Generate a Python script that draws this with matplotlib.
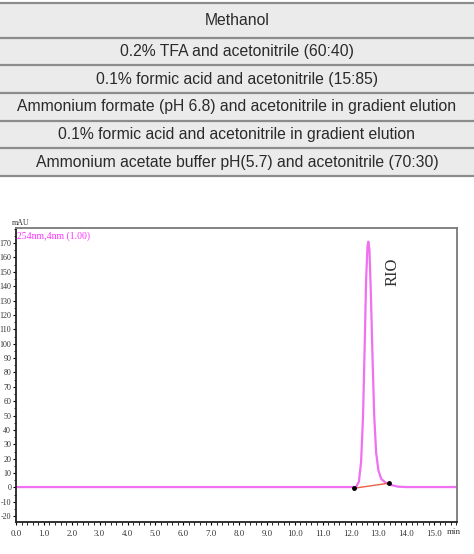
import matplotlib.pyplot as plt
from matplotlib.ticker import MultipleLocator

# table rows (mobile phases)
rows = [
    "Methanol",
    "0.2% TFA and acetonitrile (60:40)",
    "0.1% formic acid and acetonitrile (15:85)",
    "Ammonium formate (pH 6.8) and acetonitrile in gradient elution",
    "0.1% formic acid and acetonitrile in gradient elution",
    "Ammonium acetate buffer pH(5.7) and acetonitrile (70:30)",
]
row_edges = [2.7, 37.7, 65.2, 93.0, 120.7, 148.3, 176.0]

# chromatogram (min, mAU)
time_min = [0.0, 12.00, 12.20, 12.30, 12.38, 12.45, 12.51, 12.56, 12.61, 12.64,
            12.68, 12.73, 12.79, 12.85, 12.92, 13.00, 13.10, 13.25, 13.40,
            13.70, 14.00, 15.80]
signal = [0.3, 0.3, 0.3, 4, 18, 50, 100, 145, 168, 171,
          165, 135, 90, 50, 24, 12, 6, 3.5, 2, 0.6, 0.3, 0.3]
baseline_t = [12.14, 13.37]
baseline_y = [-0.5, 3.0]
peak_name = "RIO"
peak_pos = (13.5, 150)

W, H = 474, 554
fig = plt.figure(figsize=(W / 100, H / 100), dpi=100)

# ---- table at the top ----
ax_t = fig.add_axes([0, 1 - 178 / H, 1, 178 / H])
ax_t.set_xlim(0, 1)
ax_t.set_ylim(178, 0)
ax_t.axis("off")
ax_t.axhspan(row_edges[0], row_edges[-1], color="#ebebeb", lw=0)
for e in row_edges:
    ax_t.axhline(e, color="#8c8c8c", lw=1.6)
for i, txt in enumerate(rows):
    yc = (row_edges[i] + row_edges[i + 1]) / 2
    ax_t.text(0.5, yc, txt, ha="center", va="center", fontsize=11.3,
              family="Liberation Sans", color="#2a2a2a")

# ---- chromatogram ----
left, right, top, bottom = 16, 457, 228, 522
ax = fig.add_axes([left / W, 1 - bottom / H, (right - left) / W, (bottom - top) / H])
ax.plot(time_min, signal, color="#f070f0", lw=1.6)
ax.plot(baseline_t, baseline_y, color="#e8604a", lw=1.0)
ax.plot(baseline_t, baseline_y, "o", color="black", ms=2.5, lw=0)
ax.set_xlim(0, 15.82)
ax.set_ylim(-24, 180.5)

ax.xaxis.set_minor_locator(MultipleLocator(0.2))
ax.yaxis.set_minor_locator(MultipleLocator(5))
ax.set_xticks(range(0, 16))
ax.set_xticklabels([f"{v:.1f}" for v in range(0, 16)])
ax.set_yticks(range(-20, 171, 10))
ax.set_yticklabels([str(v) for v in range(-20, 171, 10)])
ax.tick_params(axis="both", which="major", length=2.5, width=0.8, labelsize=5.8,
               pad=1.0, labelcolor="#333333")
ax.tick_params(axis="x", which="major", labelsize=6.4, pad=3.0)
ax.tick_params(axis="both", which="minor", length=1.8, width=0.6)
for lab in ax.get_xticklabels() + ax.get_yticklabels():
    lab.set_family("Liberation Serif")

for s in ["left", "bottom"]:
    ax.spines[s].set_color("#222222")
    ax.spines[s].set_linewidth(1.3)
for s in ["top", "right"]:
    ax.spines[s].set_color("#7a7a7a")
    ax.spines[s].set_linewidth(1.3)

ax.text(15.72, -0.019, "min", transform=ax.get_xaxis_transform(), ha="center",
        va="top", fontsize=6.4, family="Liberation Serif", color="#333333")
ax.text(-0.01, 1.003, "mAU", transform=ax.transAxes, ha="left", va="bottom",
        fontsize=5.8, family="Liberation Serif", color="#333333")
ax.text(0.003, 0.99, "254nm,4nm (1.00)", transform=ax.transAxes, ha="left",
        va="top", fontsize=7, family="Liberation Serif", color="#ff33ff")
ax.text(peak_pos[0], peak_pos[1], peak_name, rotation=90, ha="center", va="center",
        fontsize=12, family="Liberation Serif", color="#333333")

fig.savefig("out.png", dpi=100)
